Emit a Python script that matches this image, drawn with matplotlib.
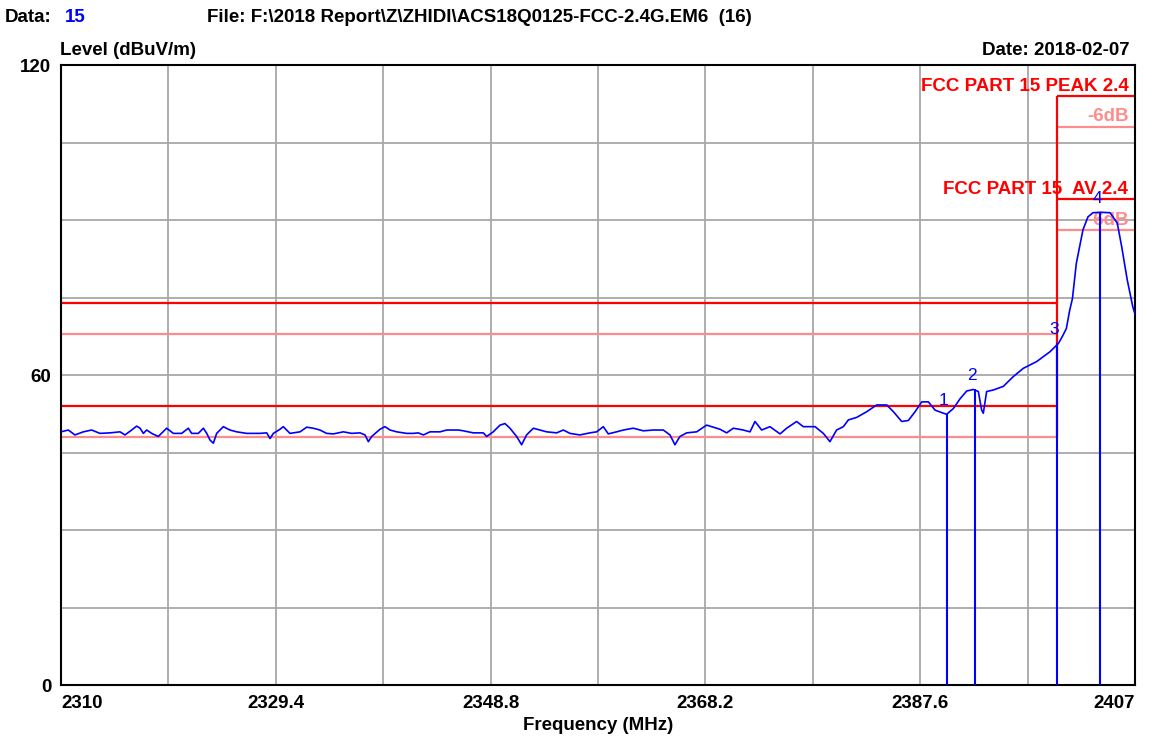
import matplotlib
matplotlib.use("Agg")
import matplotlib.pyplot as plt
import numpy as np

plt.rcParams['font.family'] = ['Liberation Sans', 'DejaVu Sans']

# ---- data ----
freq = [2310.0, 2310.66, 2311.26, 2312.02, 2312.77, 2313.52, 2314.43, 2315.33, 2315.78, 2316.38,
        2316.83, 2317.14, 2317.44, 2317.74, 2318.19, 2318.79, 2319.54, 2320.15, 2320.90, 2321.50,
        2321.80, 2322.40, 2322.86, 2323.16, 2323.46, 2323.76, 2324.06, 2324.66, 2325.26, 2325.87,
        2326.77, 2327.97, 2328.58, 2328.88, 2329.18, 2329.78, 2330.08, 2330.68, 2331.59, 2332.19,
        2332.79, 2333.39, 2333.99, 2334.60, 2335.50, 2336.25, 2337.01, 2337.46, 2337.76, 2338.06,
        2338.81, 2339.26, 2339.72, 2340.32, 2341.22, 2341.82, 2342.27, 2342.73, 2343.33, 2344.23,
        2344.83, 2345.89, 2346.33, 2347.24, 2348.14, 2348.44, 2349.04, 2349.65, 2350.10, 2350.55,
        2351.15, 2351.60, 2352.05, 2352.66, 2353.26, 2353.86, 2354.76, 2355.37, 2355.97, 2356.87,
        2357.77, 2358.38, 2358.98, 2359.43, 2360.18, 2360.79, 2361.69, 2362.59, 2363.50, 2364.40,
        2365.00, 2365.45, 2365.90, 2366.51, 2367.41, 2368.31, 2368.91, 2369.52, 2370.12, 2370.72,
        2371.62, 2372.23, 2372.68, 2373.28, 2374.03, 2374.94, 2375.54, 2376.44, 2377.04, 2378.10,
        2378.85, 2379.45, 2380.05, 2380.66, 2381.11, 2381.87, 2382.77, 2383.67, 2384.58, 2385.18,
        2385.93, 2386.53, 2387.14, 2387.74, 2388.34, 2388.94, 2389.70, 2389.99, 2390.59, 2391.20,
        2391.80, 2392.40, 2392.85, 2393.15, 2393.30, 2393.60, 2394.21, 2395.11, 2396.01, 2396.92,
        2398.12, 2399.32, 2400.08, 2400.45, 2400.80, 2401.10, 2401.35, 2401.70, 2402.30, 2402.75,
        2403.20, 2403.85, 2404.75, 2405.40, 2405.80, 2406.30, 2406.80, 2407.0]
level = [49.0, 49.35, 48.4, 49.0, 49.35, 48.7, 48.8, 49.0, 48.4, 49.35,
         50.1, 49.7, 48.7, 49.35, 48.7, 48.1, 49.7, 48.7, 48.7, 49.7,
         48.7, 48.7, 49.7, 48.7, 47.4, 46.8, 48.7, 50.0, 49.35, 49.0,
         48.7, 48.7, 48.8, 47.7, 48.7, 49.5, 50.0, 48.7, 49.0, 49.9,
         49.7, 49.35, 48.7, 48.6, 49.0, 48.7, 48.8, 48.4, 47.1, 48.1,
         49.5, 50.0, 49.35, 49.0, 48.7, 48.7, 48.8, 48.4, 49.0, 49.0,
         49.35, 49.35, 49.2, 48.8, 48.8, 48.1, 49.0, 50.3, 50.6, 49.7,
         48.1, 46.5, 48.4, 49.7, 49.35, 49.0, 48.8, 49.35, 48.7, 48.4,
         48.8, 49.0, 50.0, 48.6, 49.0, 49.35, 49.7, 49.2, 49.35, 49.35,
         48.4, 46.5, 48.1, 48.8, 49.0, 50.3, 49.9, 49.5, 48.8, 49.7,
         49.35, 49.0, 51.0, 49.35, 50.0, 48.6, 49.7, 51.0, 50.0, 50.0,
         48.7, 47.1, 49.35, 50.0, 51.3, 51.8, 52.9, 54.2, 54.2, 52.9,
         51.0, 51.2, 52.9, 54.8, 54.8, 53.2, 52.6, 52.4, 53.5, 55.4,
         56.9, 57.2, 56.8, 53.2, 52.6, 56.8, 57.1, 57.8, 59.7, 61.3,
         62.6, 64.5, 66.1, 67.5, 69.0, 72.5, 74.8, 81.6, 88.1, 90.6,
         91.4, 91.5, 91.4, 89.4, 84.8, 78.4, 73.2, 71.8]

marker_ids = ["1", "2", "3", "4"]
marker_freq = [2390.0, 2392.55, 2400.0, 2403.85]
marker_level = [52.4, 57.2, 66.1, 91.5]

band_edge = 2400.0
peak_limit = 74
peak_margin = 68
av_limit = 54
av_margin = 48
fund_peak_limit = 114
fund_peak_margin = 108
fund_av_limit = 94
fund_av_margin = 88

x_ticks = [2310, 2319.7, 2329.4, 2339.1, 2348.8, 2358.5, 2368.2, 2377.9, 2387.6, 2397.3, 2407]
x_labels = ["2310", "", "2329.4", "", "2348.8", "", "2368.2", "", "2387.6", "", "2407"]
y_ticks = [0, 15, 30, 45, 60, 75, 90, 105, 120]
y_labels = ["0", "", "", "", "60", "", "", "", "120"]

# ---- figure ----
W, H = 1162, 738
fig = plt.figure(figsize=(W / 100, H / 100), dpi=100)
L, R, T, B = 61, 1135, 65, 685
ax = fig.add_axes([L / W, 1 - B / H, (R - L) / W, (B - T) / H])
ax.set_xlim(2310, 2407)
ax.set_ylim(0, 120)

RED = '#ff0000'
LRED = '#ff8c8c'
BLUE = '#0000ff'
GRID = '#a8a8a8'

ax.set_xticks(x_ticks)
ax.set_xticklabels(x_labels)
ax.set_yticks(y_ticks)
ax.set_yticklabels(y_labels)
ax.tick_params(length=0, labelsize=13.5, pad=7)
for lab in ax.get_xticklabels() + ax.get_yticklabels():
    lab.set_fontweight('bold')
xl = ax.get_xticklabels()
xl[0].set_horizontalalignment('left')
xl[-1].set_horizontalalignment('right')
ax.grid(True, color=GRID, lw=1.3, zorder=0)
ax.set_axisbelow(True)
for s in ax.spines.values():
    s.set_linewidth(1.5)
    s.set_color('black')

# limit lines
ax.hlines([peak_limit, av_limit], 2310, band_edge, color=RED, lw=1.6, zorder=2)
ax.hlines([peak_margin, av_margin], 2310, band_edge, color=LRED, lw=1.6, zorder=2)
ax.hlines([fund_peak_limit, fund_av_limit], band_edge, 2407, color=RED, lw=1.6, zorder=2)
ax.hlines([fund_peak_margin, fund_av_margin], band_edge, 2407, color=LRED, lw=1.6, zorder=2)
ax.vlines(band_edge, av_margin, fund_peak_limit, color=RED, lw=1.6, zorder=2)

txt_x = 2406.4
ax.text(txt_x, fund_peak_limit + 1.0, "FCC PART 15 PEAK 2.4", color=RED, fontsize=13.5,
        fontweight='bold', ha='right', va='baseline', zorder=3)
ax.text(txt_x, fund_peak_margin + 1.1, "-6dB", color=LRED, fontsize=13.5,
        fontweight='bold', ha='right', va='baseline', zorder=3)
ax.text(txt_x, fund_av_limit + 1.1, "FCC PART 15  AV 2.4", color=RED, fontsize=13.5,
        fontweight='bold', ha='right', va='baseline', zorder=3)
ax.text(txt_x, fund_av_margin + 1.1, "-6dB", color=LRED, fontsize=13.5,
        fontweight='bold', ha='right', va='baseline', zorder=3)

# trace
ax.plot(freq, level, color=BLUE, lw=1.2, zorder=4)

# markers
ax.vlines(marker_freq, 0, marker_level, color=BLUE, lw=1.5, zorder=4)
for mid, mf, ml in zip(marker_ids, marker_freq, marker_level):
    ax.text(mf - 0.27, ml + 1.2, mid, color=BLUE, fontsize=12.5, ha='center',
            va='bottom', zorder=5)

ax.set_xlabel("Frequency (MHz)", fontsize=13.5, fontweight='bold', labelpad=4)

# header texts
def ftext(x, y, s, **kw):
    fig.text(x / W, 1 - y / H, s, va='baseline', fontsize=13.5, fontweight='bold', **kw)

ftext(5, 22, "Data:", color='black')
ftext(65, 22, "15", color=BLUE)
ftext(207, 22, "File: F:\\2018 Report\\Z\\ZHIDI\\ACS18Q0125-FCC-2.4G.EM6  (16)", color='black')
ftext(60, 55, "Level (dBuV/m)", color='black')
ftext(1130, 55, "Date: 2018-02-07", color='black', ha='right')

fig.savefig("out.png", dpi=100)
